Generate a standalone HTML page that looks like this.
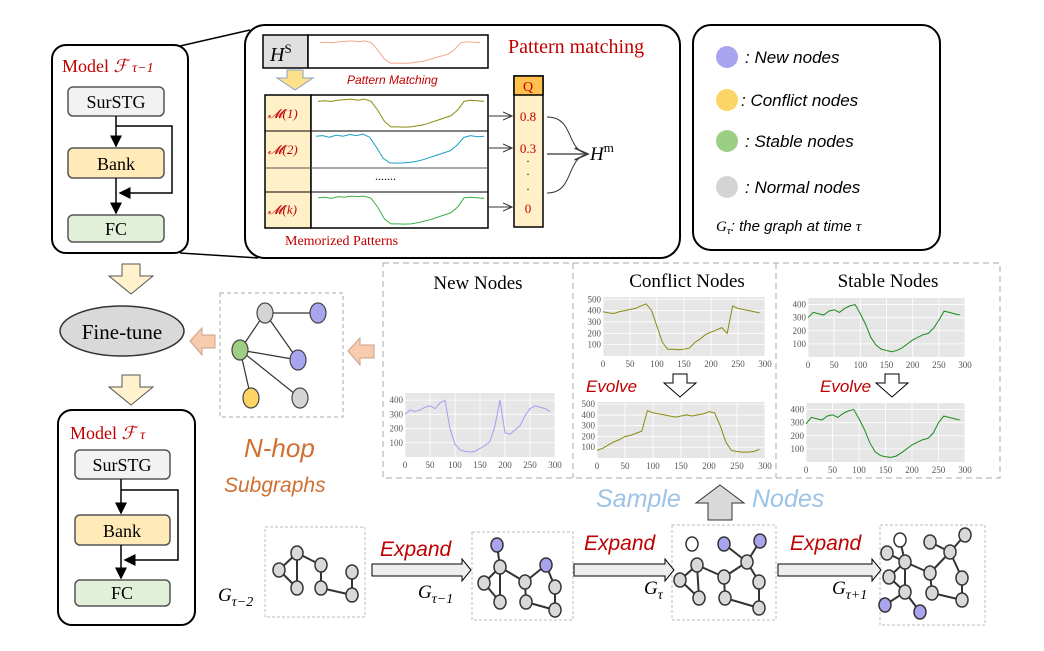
<!DOCTYPE html>
<html><head><meta charset="utf-8"><style>
html,body{margin:0;padding:0;background:#fff}
svg{display:block}
.serif{font-family:"Liberation Serif",serif}
.sans{font-family:"Liberation Sans",sans-serif}
</style></head><body>
<svg id="s" width="1044" height="651" viewBox="0 0 1044 651" xmlns="http://www.w3.org/2000/svg">
<defs>
<marker id="ah" markerWidth="8" markerHeight="8" refX="7" refY="4" orient="auto"><path d="M0,0 L8,4 L0,8 z" fill="#000"/></marker>
<marker id="ao" markerWidth="10" markerHeight="10" refX="9" refY="5" orient="auto"><path d="M0,1 L9,5 L0,9" fill="none" stroke="#333" stroke-width="1"/></marker>
</defs>

<g>
<line x1="180" y1="46" x2="250" y2="30" stroke="#000" stroke-width="1.5"/>
<line x1="180" y1="253" x2="258" y2="258" stroke="#000" stroke-width="1.5"/>
<rect x="52" y="45" width="136" height="208" rx="14" fill="#fff" stroke="#000" stroke-width="2"/>
<text x="62" y="72" class="serif" font-size="18" fill="#c00000">Model <tspan font-style="italic">ℱ</tspan> <tspan font-size="14" font-style="italic">τ−1</tspan></text>
<rect x="68" y="87" width="96" height="29" rx="5" fill="#f2f2f2" stroke="#555" stroke-width="1.5"/>
<text x="116" y="108" text-anchor="middle" class="serif" font-size="18">SurSTG</text>
<rect x="68" y="148" width="96" height="30" rx="5" fill="#ffeab8" stroke="#555" stroke-width="1.5"/>
<text x="116" y="170" text-anchor="middle" class="serif" font-size="18">Bank</text>
<rect x="68" y="215" width="96" height="27" rx="5" fill="#e2f0d9" stroke="#555" stroke-width="1.5"/>
<text x="116" y="235" text-anchor="middle" class="serif" font-size="18">FC</text>
<line x1="116" y1="116" x2="116" y2="146" stroke="#000" stroke-width="1.5" marker-end="url(#ah)"/>
<polyline points="116,126 172,126 172,193 120,193" fill="none" stroke="#000" stroke-width="1.5" marker-end="url(#ah)"/>
<line x1="116" y1="178" x2="116" y2="213" stroke="#000" stroke-width="1.5" marker-end="url(#ah)"/>
</g>

<g>
<rect x="245" y="25" width="435" height="233" rx="20" fill="#fff" stroke="#000" stroke-width="2"/>
<rect x="263" y="35" width="45" height="33" fill="#e0e0e0" stroke="#000" stroke-width="1.5"/>
<text x="270" y="61" class="serif" font-size="20" font-style="italic">H<tspan font-size="13" dy="-8" font-style="normal">S</tspan></text>
<rect x="308" y="35" width="180" height="33" fill="#fff" stroke="#000" stroke-width="1.5"/>
<path d="M287,70 h16 v8 h10 l-18,12 l-18,-12 h10 z" fill="#ffe08a" stroke="#8aa0c8" stroke-width="1"/>
<text x="347" y="84" class="sans" font-size="12" font-style="italic" fill="#c00000">Pattern Matching</text>
<text x="508" y="53" class="serif" font-size="20" fill="#c00000">Pattern matching</text>
<rect x="265" y="95" width="46" height="133" fill="#fff0c8" stroke="#000" stroke-width="1.5"/>
<rect x="311" y="95" width="177" height="133" fill="#fff" stroke="#000" stroke-width="1.5"/>
<line x1="265" y1="131" x2="488" y2="131" stroke="#000" stroke-width="1"/>
<line x1="265" y1="168" x2="488" y2="168" stroke="#555" stroke-width="1"/>
<line x1="265" y1="192" x2="488" y2="192" stroke="#000" stroke-width="1"/>
<text x="268" y="118" class="serif" font-size="13" font-style="italic" fill="#c00000">𝓜(1)</text>
<text x="268" y="154" class="serif" font-size="13" font-style="italic" fill="#c00000">𝓜(2)</text>
<text x="268" y="214" class="serif" font-size="13" font-style="italic" fill="#c00000">𝓜(k)</text>
<text x="375" y="180" class="serif" font-size="12">.......</text>
<text x="285" y="245" class="serif" font-size="14" fill="#c00000">Memorized Patterns</text>
<rect x="514" y="76" width="29" height="151" fill="#fff0c8" stroke="#000" stroke-width="1.5"/>
<rect x="514" y="76" width="29" height="19" fill="#ffc04d" stroke="#000" stroke-width="1.5"/>
<text x="528" y="91" text-anchor="middle" class="serif" font-size="14" fill="#c00000">Q</text>
<text x="528" y="121" text-anchor="middle" class="serif" font-size="13" fill="#c00000">0.8</text>
<text x="528" y="153" text-anchor="middle" class="serif" font-size="13" fill="#c00000">0.3</text>
<text x="528" y="165" text-anchor="middle" font-size="12">·</text>
<text x="528" y="178" text-anchor="middle" font-size="12">·</text>
<text x="528" y="193" text-anchor="middle" font-size="12">·</text>
<text x="528" y="213" text-anchor="middle" class="serif" font-size="13" fill="#c00000">0</text>
<line x1="488" y1="116" x2="512" y2="116" stroke="#333" marker-end="url(#ao)"/>
<line x1="488" y1="148" x2="512" y2="148" stroke="#333" marker-end="url(#ao)"/>
<line x1="488" y1="207" x2="512" y2="207" stroke="#333" marker-end="url(#ao)"/>
<path d="M547,117 C575,117 565,150 588,154" fill="none" stroke="#333"/>
<path d="M547,193 C575,193 565,158 588,154" fill="none" stroke="#333"/>
<line x1="547" y1="154" x2="588" y2="154" stroke="#555" stroke-width="1.5" marker-end="url(#ao)"/>
<text x="590" y="160" class="serif" font-size="19" font-style="italic">H<tspan font-size="13" dy="-8" font-style="normal">m</tspan></text>
<g id="pm"></g>
</g>

<g>
<rect x="693" y="25" width="247" height="225" rx="18" fill="#fff" stroke="#000" stroke-width="2"/>
<circle cx="727" cy="57" r="11" fill="#a9a4ee"/>
<text x="745" y="63" class="sans" font-size="17" font-style="italic">: New nodes</text>
<circle cx="727" cy="100" r="11" fill="#fcd566"/>
<text x="741" y="106" class="sans" font-size="17" font-style="italic">: Conflict nodes</text>
<circle cx="727" cy="141" r="11" fill="#9ccf84"/>
<text x="745" y="147" class="sans" font-size="17" font-style="italic">: Stable nodes</text>
<circle cx="727" cy="187" r="11" fill="#d4d4d4"/>
<text x="745" y="193" class="sans" font-size="17" font-style="italic">: Normal nodes</text>
<text x="716" y="231" class="serif" font-size="15" font-style="italic">G<tspan font-size="11" dy="3">τ</tspan><tspan dy="-3" class="sans" font-size="15">: the graph at time </tspan>τ</text>
</g>

<path d="M122,264 h18 v12 h13 l-22,18 l-22,-18 h13 z" fill="#fff2cc" stroke="#555"/>
<ellipse cx="122" cy="331" rx="62" ry="25" fill="#d9d9d9" stroke="#333" stroke-width="1.5"/>
<text x="122" y="339" text-anchor="middle" class="serif" font-size="21">Fine-tune</text>
<path d="M122,375 h18 v12 h13 l-22,18 l-22,-18 h13 z" fill="#fff2cc" stroke="#555"/>

<g>
<rect x="58" y="410" width="137" height="215" rx="14" fill="#fff" stroke="#000" stroke-width="2"/>
<text x="70" y="439" class="serif" font-size="18" fill="#c00000">Model <tspan font-style="italic">ℱ</tspan> <tspan font-size="14" font-style="italic">τ</tspan></text>
<rect x="75" y="450" width="95" height="29" rx="5" fill="#f2f2f2" stroke="#555" stroke-width="1.5"/>
<text x="122" y="471" text-anchor="middle" class="serif" font-size="18">SurSTG</text>
<rect x="75" y="515" width="95" height="30" rx="5" fill="#ffeab8" stroke="#555" stroke-width="1.5"/>
<text x="122" y="537" text-anchor="middle" class="serif" font-size="18">Bank</text>
<rect x="75" y="580" width="95" height="26" rx="5" fill="#e2f0d9" stroke="#555" stroke-width="1.5"/>
<text x="122" y="599" text-anchor="middle" class="serif" font-size="18">FC</text>
<line x1="121" y1="479" x2="121" y2="513" stroke="#000" stroke-width="1.5" marker-end="url(#ah)"/>
<polyline points="121,490 178,490 178,560 125,560" fill="none" stroke="#000" stroke-width="1.5" marker-end="url(#ah)"/>
<line x1="121" y1="545" x2="121" y2="578" stroke="#000" stroke-width="1.5" marker-end="url(#ah)"/>
</g>

<g>
<path d="M190,341 l12,-13 v7 h13 v13 h-13 v7 z" fill="#f8cbad" stroke="#c9a08a"/>
<path d="M348,351 l12,-13 v7 h14 v13 h-14 v7 z" fill="#f8cbad" stroke="#c9a08a"/>
<rect x="220" y="293" width="123" height="124" fill="#fff" stroke="#aaa" stroke-dasharray="4,3"/>
<g stroke="#333" stroke-width="1.2">
<line x1="265" y1="313" x2="318" y2="313"/><line x1="265" y1="313" x2="240" y2="350"/><line x1="265" y1="313" x2="298" y2="360"/>
<line x1="240" y1="350" x2="298" y2="360"/><line x1="240" y1="350" x2="251" y2="398"/><line x1="240" y1="350" x2="300" y2="398"/>
</g>
<g stroke="#444" stroke-width="1.2">
<ellipse cx="265" cy="313" rx="8" ry="10" fill="#d4d4d4"/><ellipse cx="318" cy="313" rx="8" ry="10" fill="#a9a4ee"/>
<ellipse cx="240" cy="350" rx="8" ry="10" fill="#9ccf84"/><ellipse cx="298" cy="360" rx="8" ry="10" fill="#a9a4ee"/>
<ellipse cx="251" cy="398" rx="8" ry="10" fill="#fcd566"/><ellipse cx="300" cy="398" rx="8" ry="10" fill="#d4d4d4"/>
</g>
<text x="244" y="457" class="sans" font-size="26" font-style="italic" fill="#d07030">N-hop</text>
<text x="224" y="492" class="sans" font-size="21" font-style="italic" fill="#d07030">Subgraphs</text>
</g>

<g>
<rect x="383" y="263" width="617" height="215" fill="#fff" stroke="#aaa" stroke-dasharray="6,4"/>
<line x1="573" y1="263" x2="573" y2="478" stroke="#aaa" stroke-dasharray="6,4"/>
<line x1="776" y1="263" x2="776" y2="478" stroke="#aaa" stroke-dasharray="6,4"/>
<text x="478" y="289" text-anchor="middle" class="serif" font-size="19">New Nodes</text>
<text x="687" y="287" text-anchor="middle" class="serif" font-size="19">Conflict Nodes</text>
<text x="888" y="287" text-anchor="middle" class="serif" font-size="19">Stable Nodes</text>
<text x="586" y="392" class="sans" font-size="17" font-style="italic" fill="#c00000">Evolve</text>
<path d="M673,374 h14 v9 h9 l-16,14 l-16,-14 h9 z" fill="#fff" stroke="#000"/>
<text x="820" y="392" class="sans" font-size="17" font-style="italic" fill="#c00000">Evolve</text>
<path d="M885,374 h14 v9 h9 l-16,14 l-16,-14 h9 z" fill="#fff" stroke="#000"/>
<g id="charts"></g>
</g>

<text x="596" y="507" class="sans" font-size="25" font-style="italic" fill="#9dc3e6">Sample</text>
<path d="M720,485 l24,18 h-12 v17 h-24 v-17 h-12 z" fill="#d9d9d9" stroke="#333"/>
<text x="752" y="507" class="sans" font-size="25" font-style="italic" fill="#9dc3e6">Nodes</text>

<g>
<rect x="265" y="527" width="100" height="90" fill="#fff" stroke="#bbb" stroke-dasharray="3,2"/>
<rect x="472" y="532" width="101" height="88" fill="#fff" stroke="#bbb" stroke-dasharray="3,2"/>
<rect x="672" y="525" width="104" height="95" fill="#fff" stroke="#bbb" stroke-dasharray="3,2"/>
<rect x="880" y="525" width="105" height="100" fill="#fff" stroke="#bbb" stroke-dasharray="3,2"/>
<g class="sans" font-size="21" font-style="italic" fill="#c00000">
<text x="380" y="556">Expand</text><text x="584" y="550">Expand</text><text x="790" y="550">Expand</text>
</g>
<path d="M372,564 h90 v-5 l9,11 l-9,11 v-5 h-90 z" fill="#eee" stroke="#000"/>
<path d="M574,564 h91 v-5 l9,11 l-9,11 v-5 h-91 z" fill="#eee" stroke="#000"/>
<path d="M778,564 h94 v-5 l9,11 l-9,11 v-5 h-94 z" fill="#eee" stroke="#000"/>
<g class="serif" font-size="19" font-style="italic">
<text x="218" y="601">G<tspan font-size="14" dy="5">τ−2</tspan></text>
<text x="418" y="598">G<tspan font-size="14" dy="5">τ−1</tspan></text>
<text x="644" y="594">G<tspan font-size="14" dy="5">τ</tspan></text>
<text x="832" y="594">G<tspan font-size="14" dy="5">τ+1</tspan></text>
</g>
<g id="graphs"></g>
</g>
</svg>
<script>
const xTicks = [0,50,100,150,200,250,300];
const yTicks = [100,200,300,400];
const yTicksConflict = [100,200,300,400,500];
const newNodes = [300,330,320,330,350,360,340,380,400,200,90,50,40,35,40,60,80,110,220,400,170,160,190,220,290,340,360,350,340,320];
const conflictBefore = [390,380,375,390,400,410,420,440,460,400,260,120,60,60,55,60,70,120,150,190,210,230,250,200,440,420,410,400,390,380];
const conflictAfter = [70,90,120,150,170,200,210,230,250,440,420,410,400,390,380,390,400,390,400,410,430,420,300,150,70,60,55,55,60,80];
const stableBefore = [300,340,330,320,350,360,340,370,390,400,330,250,150,90,60,50,40,50,70,100,130,150,170,180,220,280,350,340,330,320];
const stableAfter = [290,340,330,320,350,360,340,370,390,400,330,250,150,80,50,40,35,45,70,100,130,150,170,180,220,300,350,340,330,320];
const patternHs = [380,385,380,390,395,400,390,400,380,300,200,150,150,148,150,160,170,190,210,230,250,300,380,390,385,380];
const patternM1 = [380,385,380,390,395,400,390,400,380,300,200,150,150,148,150,160,170,190,210,230,250,300,380,390,385,380];
const patternM2 = [390,395,380,400,390,405,395,410,380,290,190,150,148,150,155,165,180,200,220,240,260,310,380,395,385,390];
const patternMk = [385,390,380,395,390,400,395,400,380,300,195,150,150,148,150,160,175,190,210,230,250,300,385,390,385,380];

const NS='http://www.w3.org/2000/svg';
function mk(tag, attrs, parent){const e=document.createElementNS(NS,tag);for(const k in attrs)e.setAttribute(k,attrs[k]);parent.appendChild(e);return e;}

function chart(name, data, ticks, ymax, x0, y0, w, h, color){
  const g=mk('g',{},document.getElementById('charts'));
  
  
  const xs=v=>x0+v/300*w, ys=v=>y0+h-v/ymax*h;
  mk('rect',{x:x0,y:y0,width:w,height:h,fill:'#e6e6e6'},g);
  ticks.forEach(t=>{mk('line',{x1:x0,x2:x0+w,y1:ys(t),y2:ys(t),stroke:'#fff','stroke-width':0.8},g);
    const tx=mk('text',{x:x0-2,y:ys(t)+3,'text-anchor':'end','font-size':9,fill:'#555','font-family':'Liberation Serif,serif'},g);tx.textContent=t;});
  xTicks.forEach(t=>{mk('line',{x1:xs(t),x2:xs(t),y1:y0,y2:y0+h,stroke:'#fff','stroke-width':0.8},g);
    const tx=mk('text',{x:xs(t),y:y0+h+11,'text-anchor':'middle','font-size':9,fill:'#555','font-family':'Liberation Serif,serif'},g);tx.textContent=t;});
  const pts=data.map((v,i)=>xs(i*10)+','+ys(v)).join(' ');
  const pl=mk('polyline',{points:pts,fill:'none',stroke:color,'stroke-width':1},g);
  
  
}
chart('new-nodes-chart', newNodes, yTicks, 450, 405, 393, 150, 64, '#a99af5');
chart('conflict-before-chart', conflictBefore, yTicksConflict, 520, 603, 297, 162, 59, '#8a8a10');
chart('conflict-after-chart', conflictAfter, yTicksConflict, 520, 597, 402, 168, 56, '#8a8a10');
chart('stable-before-chart', stableBefore, yTicks, 450, 808, 298, 157, 59, '#1a8a1a');
chart('stable-after-chart', stableAfter, yTicks, 450, 806, 403, 159, 59, '#1a8a1a');

function trace(name, data, x0, y0, w, h, color){
  const n=data.length;
  const pts=data.map((v,i)=>(x0+i/(n-1)*w)+','+(y0+h-(v-140)/270*h)).join(' ');
  const pl=mk('polyline',{points:pts,fill:'none',stroke:color,'stroke-width':1},document.getElementById('pm'));
  
  
}
trace('hs-trace', patternHs, 320, 40, 160, 24, '#f4a58a');
trace('m1-trace', patternM1, 318, 98, 166, 30, '#8a8a10');
trace('m2-trace', patternM2, 316, 134, 168, 30, '#1a9fbf');
trace('mk-trace', patternMk, 318, 195, 166, 30, '#3cb043');

const graphNodes = [
 [[297,553,'n'],[279,570,'n'],[297,588,'n'],[321,565,'n'],[321,588,'n'],[352,572,'n'],[352,595,'n']],
 [[497,545,'p'],[500,567,'n'],[484,583,'n'],[500,602,'n'],[525,582,'n'],[546,565,'p'],[555,587,'n'],[526,602,'n'],[555,610,'n']],
 [[692,544,'w'],[724,544,'p'],[760,541,'p'],[697,565,'n'],[680,580,'n'],[699,598,'n'],[724,577,'n'],[747,562,'n'],[759,582,'n'],[725,598,'n'],[759,608,'n']],
 [[900,540,'w'],[887,553,'n'],[905,562,'n'],[889,577,'n'],[905,592,'n'],[885,605,'p'],[920,612,'p'],[930,573,'n'],[930,542,'n'],[950,552,'n'],[965,535,'n'],[962,578,'n'],[932,593,'n'],[962,600,'n']]
];
const graphEdges = [
 [[0,1],[0,2],[1,2],[0,3],[3,4],[4,6],[6,5]],
 [[0,1],[1,2],[2,3],[1,3],[1,4],[4,5],[5,6],[6,8],[4,7],[7,8]],
 [[3,4],[4,5],[3,5],[3,6],[6,7],[7,1],[7,2],[7,8],[6,9],[9,10],[8,10]],
 [[0,2],[1,2],[2,3],[2,4],[3,4],[4,5],[4,6],[2,7],[7,9],[8,9],[9,10],[9,11],[7,12],[12,13],[11,13]]
];
const gg=document.getElementById('graphs');
const fills={n:'#d9d9d9',p:'#a9a4ee',w:'#fff'};
graphNodes.forEach((nodes,gi)=>{
  graphEdges[gi].forEach(e=>{const a=nodes[e[0]],b=nodes[e[1]];
    const l=mk('line',{x1:a[0],y1:a[1],x2:b[0],y2:b[1],stroke:'#333','stroke-width':2},gg);
    
    });
  nodes.forEach(n=>{const c=mk('ellipse',{cx:n[0],cy:n[1],rx:6,ry:7,fill:fills[n[2]],stroke:'#333','stroke-width':1.5},gg);
    
    });
});
</script>
</body></html>
